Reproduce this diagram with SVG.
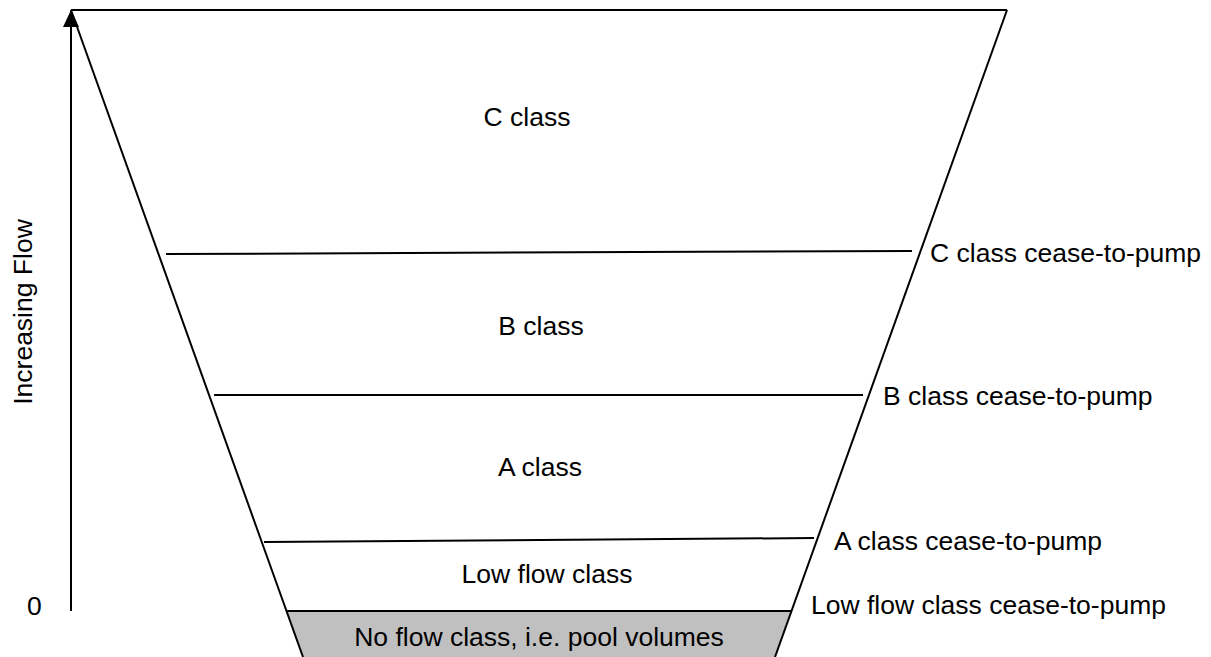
<svg xmlns="http://www.w3.org/2000/svg" width="1211" height="657" viewBox="0 0 1211 657">
<defs>
<style>
.ln{stroke:#000;stroke-width:2;fill:none}
.t{font-family:"Liberation Sans",Arial,sans-serif;font-size:26.5px;fill:#000}
.m{text-anchor:middle}
</style>
<marker id="ah" markerWidth="17" markerHeight="16" refX="17" refY="8" orient="auto" markerUnits="userSpaceOnUse" viewBox="0 0 17 16">
<path d="M0,0 L17,8 L0,16 Z" fill="#000"/>
</marker>
</defs>
<rect width="1211" height="657" fill="#fff"/>
<g id="noflow">
<polygon points="286.5,611 791.5,611 775,657 303,657" fill="#c0c0c0"/>
<line class="ln" x1="287" y1="611" x2="791" y2="611"/>
<text class="t m" x="539" y="646">No flow class, i.e. pool volumes</text>
</g>
<g id="funnel">
<line class="ln" x1="71" y1="10" x2="1007" y2="10"/>
<line class="ln" x1="71" y1="10" x2="303" y2="657"/>
<line class="ln" x1="1007" y1="10" x2="775" y2="657"/>
</g>
<g id="cclass"><text class="t m" x="527" y="126">C class</text></g>
<g id="bclass"><text class="t m" x="541" y="335">B class</text></g>
<g id="aclass"><text class="t m" x="540" y="476">A class</text></g>
<g id="lowflow"><text class="t m" x="547" y="583">Low flow class</text></g>
<g id="connectors">
<line class="ln" x1="166" y1="254" x2="912" y2="251"/>
<line class="ln" x1="214" y1="395" x2="863" y2="395"/>
<line class="ln" x1="264" y1="542" x2="814" y2="538"/>
<line class="ln" x1="71" y1="611" x2="71" y2="10" marker-end="url(#ah)"/>
</g>
<g id="labels">
<text class="t" x="930" y="262">C class cease-to-pump</text>
<text class="t" x="883" y="405">B class cease-to-pump</text>
<text class="t" x="834" y="550">A class cease-to-pump</text>
<text class="t" x="811" y="614">Low flow class cease-to-pump</text>
<text class="t" x="27" y="615">0</text>
<text class="t m" transform="translate(32,312) rotate(-90)">Increasing Flow</text>
</g>
</svg>
